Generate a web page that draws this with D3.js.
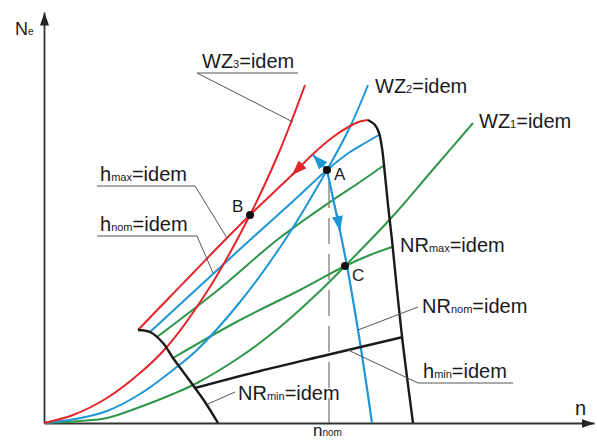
<!DOCTYPE html>
<html><head><meta charset="utf-8">
<script src="https://cdn.jsdelivr.net/npm/d3@7"></script>
<style>
html,body{margin:0;padding:0;background:#fff;}
svg{display:block;}
text{font-family:"Liberation Sans",Arial,sans-serif;fill:#1a1a1a;}
</style></head><body>
<svg id="chart" width="597" height="441"></svg>
<script>
// ---- data (schematic units: n on x, Ne on y) ----
const propWZ3 = [[0,0],[5.8,1.6],[12.6,5],[19.2,10],[24.4,15],[32.8,26.6],[41.2,41.6],[47.2,54.6],[52.2,67.6]];
const propWZ2 = [[0,0],[6.2,0.8],[12.6,2.4],[19.2,5.8],[25.8,10.6],[30.6,14.6],[39.2,24.2],[48.2,36.6],[56.6,50.6],[61.2,59.2],[64.8,67.6]];
const propWZ1 = [[0,0],[7.2,0.4],[12.6,1],[19.2,3.2],[25.8,5.8],[30.6,8],[39.2,13.2],[47.2,19.2],[55.2,26.4],[60.2,31.4],[69.8,41.4],[77.2,50],[85.8,60]];
const hMaxLine = [[18.8,18.6],[24.4,24.4],[30,30.2],[35.6,36],[41.2,41.6],[45.6,45.8],[49.6,49.6],[53.8,53.8],[57.8,57.2],[61.2,59.4],[63.2,60.3],[64.8,60.6]];
const hNomLine = [[21.2,18.2],[33.8,29.8],[41.2,36.6],[49.2,43.8],[56.6,50.6],[61.2,54.2],[64.2,56],[67,57.6]];
const greenUpper = [[22.6,17.2],[34.8,26.6],[46.6,36.6],[57.2,44.2],[63.2,48.2],[67.8,51.4]];
const greenLower = [[25.8,13],[39.2,20.6],[51.2,26.6],[60.2,31.4],[65.2,33.6],[69.6,35.2]];
const nrNomLine = [[56.6,50.6],[57.8,45],[59.2,38.4],[60.6,31.4],[62.8,18.6],[64.2,9.6],[65.6,0]];
const nrMaxLine = [[64.8,60.6],[66.2,59.6],[67,58],[67.6,55],[68.2,49.6],[68.8,43.6],[69.6,36.6],[70.6,26.6],[71.8,15.6],[73.8,0]];
const nrMinLine = [[18.8,18.6],[21.2,18.2],[23.8,16],[25.8,13],[28.6,9.2],[30.2,7],[32.2,4.2],[34.8,0]];
const hMinLine = [[30.2,7],[43.2,10.4],[56.6,13.6],[71.8,17.2]];
const nNom = 57;
const nNomTop = 48.2;
const points = [{name:"A", p:[56.6,50.6], l:[58,48.6]},{name:"B", p:[41.2,41.6], l:[37.6,42.2]},{name:"C", p:[60.2,31.4], l:[61.6,28.4]}];
const arrows = [
  {color:"red",  from:[51.2,51.2], to:[49.6,49.6]},
  {color:"blue", from:[56.6,50.6], to:[53.8,53.6]},
  {color:"blue", from:[58.6,41.8], to:[59.2,38.4]}
];
const labels = [
  {main:"WZ", sub:"3",   rest:"=idem", at:[31.6,71]},
  {main:"WZ", sub:"2",   rest:"=idem", at:[66.2,66]},
  {main:"WZ", sub:"1",   rest:"=idem", at:[87,59]},
  {main:"h",  sub:"max", rest:"=idem", at:[11.2,48.4]},
  {main:"h",  sub:"nom", rest:"=idem", at:[11.2,38.4]},
  {main:"NR", sub:"max", rest:"=idem", at:[71.2,34.2]},
  {main:"NR", sub:"nom", rest:"=idem", at:[75.6,22]},
  {main:"h",  sub:"min", rest:"=idem", at:[75.8,9]},
  {main:"NR", sub:"min", rest:"=idem", at:[38.8,4.6]}
];
const leaders = [
  [[50.8,70],[30.6,70],[49.8,60.2]],
  [[10.6,47.4],[30.2,47.4],[36.6,37]],
  [[10.6,37.4],[30.6,37.4],[33.8,30]],
  [[74.8,23.2],[62.8,18.6]],
  [[93.8,8],[74.8,8],[60.8,14.6]],
  [[38.2,6.2],[32.8,3.8]]
];

// ---- drawing ----
const svg = d3.select("#chart");
const x = d3.scaleLinear().domain([0,110]).range([44,594]);
const y = d3.scaleLinear().domain([0,82.2]).range([423,12]);
const col = {red:"#e2262c", blue:"#1e96d6", green:"#2f964a", black:"#1a1a1a"};

const defs = svg.append("defs");
function marker(id, c, len, w){
  defs.append("marker").attr("id",id).attr("markerUnits","userSpaceOnUse")
    .attr("viewBox",`0 ${-w/2} ${len} ${w}`).attr("refX",len).attr("refY",0)
    .attr("markerWidth",len).attr("markerHeight",w).attr("orient","auto")
    .append("path").attr("d",`M0,${-w/2}L${len},0L0,${w/2}Z`).attr("fill",c);
}
marker("axArrow", "#222", 13, 9);
marker("redArrow", col.red, 15, 11);
marker("blueArrow", col.blue, 15, 11);

// axes
const xAx = svg.append("g").attr("transform",`translate(0,${y(0)})`)
  .call(d3.axisBottom(x).tickValues([]).tickSizeOuter(0));
xAx.select(".domain").attr("stroke","#333").attr("stroke-width",1.8).attr("marker-end","url(#axArrow)");
const yAx = svg.append("g").attr("transform",`translate(${x(0)},0)`)
  .call(d3.axisLeft(y).tickValues([]).tickSizeOuter(0));
yAx.select(".domain").attr("stroke","#333").attr("stroke-width",1.8).attr("marker-end","url(#axArrow)");

const line = d3.line().x(d=>x(d[0])).y(d=>y(d[1])).curve(d3.curveCatmullRom.alpha(0.5));
const straight = d3.line().x(d=>x(d[0])).y(d=>y(d[1]));

// dashed nominal speed line
svg.append("path").attr("d", straight([[nNom,nNomTop],[nNom,0]]))
  .attr("stroke","#555").attr("stroke-width",1).attr("stroke-dasharray","26,10").attr("fill","none");

const curves = [
  [propWZ1, col.green, 2],[greenLower, col.green, 2],[greenUpper, col.green, 2],
  [propWZ2, col.blue, 2],[hNomLine, col.blue, 2],
  [propWZ3, col.red, 2],[hMaxLine, col.red, 2],
  [nrNomLine, col.blue, 2.2],
  [nrMaxLine, col.black, 2.4],[nrMinLine, col.black, 2.4],[hMinLine, col.black, 2.4]
];
curves.forEach(([d,c,w]) => svg.append("path").attr("d", line(d)).attr("fill","none")
  .attr("stroke", c).attr("stroke-width", w).attr("stroke-linejoin","round"));

// arrows
arrows.forEach(a => svg.append("path").attr("d", straight([a.from,a.to]))
  .attr("stroke", col[a.color]).attr("stroke-width",2).attr("fill","none")
  .attr("marker-end", `url(#${a.color}Arrow)`));

// leaders
leaders.forEach(l => svg.append("path").attr("d", straight(l)).attr("fill","none")
  .attr("stroke","#555").attr("stroke-width",1));

// points
points.forEach(p => {
  svg.append("circle").attr("cx",x(p.p[0])).attr("cy",y(p.p[1])).attr("r",4).attr("fill","#111");
  svg.append("text").attr("x",x(p.l[0])).attr("y",y(p.l[1])).attr("font-size",17).text(p.name);
});

// labels
function subLabel(main, sub, rest, px, py, fs, ss){
  const t = svg.append("text").attr("x",px).attr("y",py).attr("font-size",fs);
  t.append("tspan").text(main);
  t.append("tspan").attr("font-size",ss).text(sub);
  if (rest) t.append("tspan").attr("font-size",fs).text(rest);
  return t;
}
labels.forEach(l => subLabel(l.main, l.sub, l.rest, x(l.at[0]), y(l.at[1]), 20, 11));

// axis titles
subLabel("N","e","", 15, 35, 18, 10);
subLabel("n","","", 575, 415, 20, 10);
subLabel("n","nom","", 313, 436, 17, 10);
</script>
</body></html>
